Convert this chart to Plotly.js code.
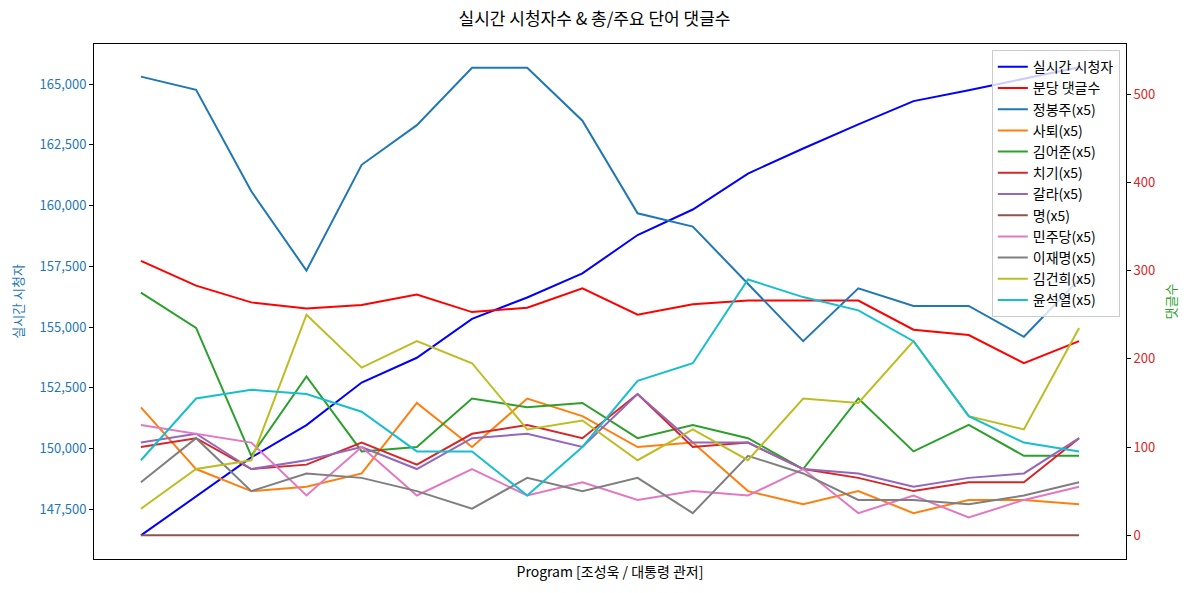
<!DOCTYPE html>
<html>
<head>
<meta charset="utf-8">
<script src="https://cdn.plot.ly/plotly-3.0.1.min.js"></script>
<style>html,body{margin:0;padding:0;background:#fff;}#chart{width:1189px;height:593px;}</style>
</head>
<body>
<div id="chart"></div>
<script>
const xIndex = [0,1,2,3,4,5,6,7,8,9,10,11,12,13,14,15,16,17];
const viewers = [146430,148050,149640,150970,152720,153740,155340,156220,157210,158790,159840,161320,162350,163340,164300,164750,165230,165690];
const commentsPerMin = [311,283,264,257,261,273,253,258,280,250,262,266,266,266,233,227,195,220];
const wordNames = ["정봉주(x5)","사퇴(x5)","김어준(x5)","치기(x5)","갈라(x5)","명(x5)","민주당(x5)","이재명(x5)","김건희(x5)","윤석열(x5)"];
const jeongBongJu = [520,505,390,300,420,465,530,530,470,365,350,285,220,280,260,260,225,290];
const satoe = [145,75,50,55,70,150,100,155,135,100,105,50,35,50,25,40,40,35];
const kimEoJun = [275,235,90,180,95,100,155,145,150,110,125,110,75,155,95,125,90,90];
const chigi = [100,110,75,80,105,80,115,125,110,160,100,105,75,65,50,60,60,110];
const gala = [105,115,75,85,100,75,110,115,100,160,105,105,75,70,55,65,70,110];
const myeong = [0,0,0,0,0,0,0,0,0,0,0,0,0,0,0,0,0,0];
const minjudang = [125,115,105,45,100,45,75,45,60,40,50,45,75,25,45,20,40,55];
const leeJaeMyung = [60,110,50,70,65,50,30,65,50,65,25,90,70,40,40,35,45,60];
const kimGunHee = [30,75,85,250,190,220,195,120,130,85,120,85,155,150,220,135,120,235];
const yoonSukYeol = [85,155,165,160,140,95,95,45,100,175,195,290,270,255,220,135,105,95];
const wordSeries = [jeongBongJu,satoe,kimEoJun,chigi,gala,myeong,minjudang,leeJaeMyung,kimGunHee,yoonSukYeol];
const wordColors = ["#1f77b4","#ff7f0e","#2ca02c","#d62728","#9467bd","#8c564b","#e377c2","#7f7f7f","#bcbd22","#17becf"];

const FONT = "Noto Sans CJK KR, Noto Sans, DejaVu Sans, sans-serif";
const traces = [
  {x:xIndex, y:viewers, name:"실시간 시청자", type:"scatter", mode:"lines", line:{color:"#0000ff", width:2}, yaxis:"y"},
  {x:xIndex, y:commentsPerMin, name:"분당 댓글수", type:"scatter", mode:"lines", line:{color:"#ff0000", width:2}, yaxis:"y2"}
];
wordNames.forEach((n,i)=>{
  traces.push({x:xIndex, y:wordSeries[i], name:n, type:"scatter", mode:"lines", line:{color:wordColors[i], width:2}, yaxis:"y2"});
});

const layout = {
  width:1189, height:593,
  margin:{l:94, r:63, t:44, b:34},
  paper_bgcolor:"#fff", plot_bgcolor:"#fff",
  font:{family:FONT, size:13, color:"#000"},
  title:{text:"실시간 시청자수 & 총/주요 단어 댓글수", x:0.5, xanchor:"center", y:0.968, yanchor:"middle", font:{size:17, color:"#000"}},
  showlegend:true,
  legend:{x:0.994, xanchor:"right", y:0.988, yanchor:"top", bgcolor:"rgba(255,255,255,0.8)", bordercolor:"#cccccc", borderwidth:1, font:{size:14}, tracegroupgap:0, itemwidth:30},
  xaxis:{range:[-0.85,17.85], showticklabels:false, ticks:"", showgrid:false, zeroline:false, showline:true, mirror:true, linecolor:"#000", linewidth:1,
    title:{text:"Program [조성욱 / 대통령 관저]", font:{size:14, color:"#000"}, standoff:8}},
  yaxis:{range:[145460,166650], tickvals:[147500,150000,152500,155000,157500,160000,162500,165000], ticktext:["147,500","150,000","152,500","155,000","157,500","160,000","162,500","165,000"],
    ticks:"outside", ticklen:4, tickcolor:"#000", showgrid:false, zeroline:false, showline:true, linecolor:"#000", linewidth:1,
    tickfont:{color:"#1f77b4", size:13}, title:{text:"실시간 시청자", font:{color:"#1f77b4", size:13}, standoff:12}},
  yaxis2:{range:[-27,557], overlaying:"y", side:"right", tickvals:[0,100,200,300,400,500], ticks:"outside", ticklen:4, tickcolor:"#000",
    showgrid:false, zeroline:false, showline:true, linecolor:"#000", linewidth:1,
    tickfont:{color:"#d62728", size:13}, title:{text:"댓글수", font:{color:"#2ca02c", size:13}, standoff:12}}
};
Plotly.newPlot("chart", traces, layout, {displayModeBar:false, staticPlot:true});
</script>
</body>
</html>
